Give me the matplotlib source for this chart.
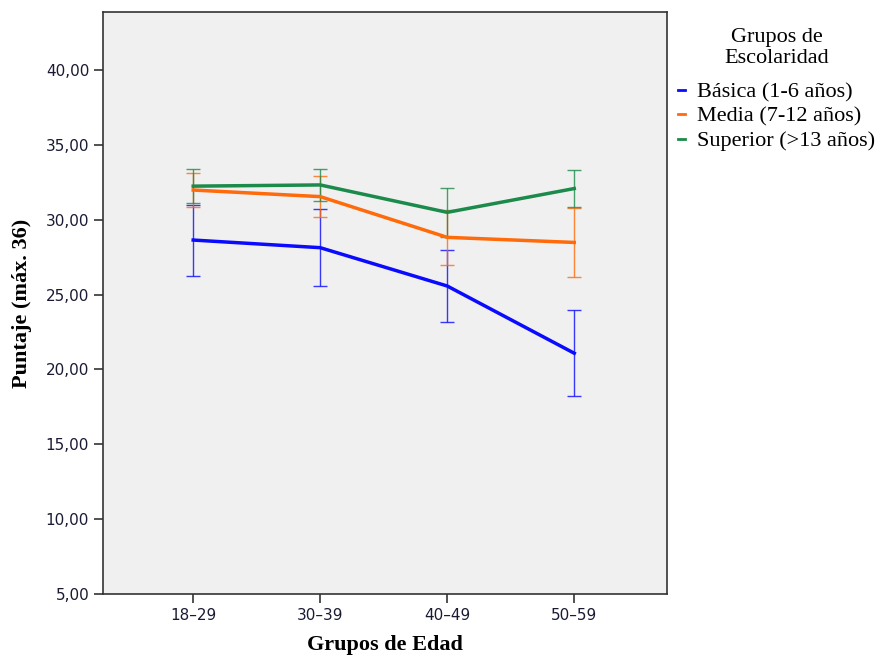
import matplotlib
matplotlib.use("Agg")
import matplotlib.pyplot as plt
import numpy as np

age_groups = ["18\u201329", "30\u201339", "40\u201349", "50\u201359"]
series_names = ["Básica (1-6 años)", "Media (7-12 años)", "Superior (>13 años)"]
basica_mean = [28.64, 28.13, 25.57, 21.08]
basica_err = [2.37, 2.56, 2.43, 2.87]
media_mean = [31.98, 31.54, 28.82, 28.48]
media_err = [1.16, 1.35, 1.84, 2.30]
superior_mean = [32.24, 32.32, 30.49, 32.08]
superior_err = [1.13, 1.08, 1.63, 1.25]
colors = ["#0a0aff", "#ff6a0a", "#1b8a4a"]

fig = plt.figure(figsize=(8.79, 6.56), dpi=100)
ax = fig.add_axes([0.1172, 0.0945, 0.6416, 0.8872])
ax.set_facecolor("#f0f0f0")

x = np.arange(len(age_groups))
for name, m, e, c in zip(series_names,
                         [basica_mean, media_mean, superior_mean],
                         [basica_err, media_err, superior_err],
                         colors):
    ax.errorbar(x, m, yerr=e, fmt="none", ecolor=c, elinewidth=1.0,
                capsize=5, capthick=1.0, alpha=0.8, zorder=2)
    ax.plot(x, m, color=c, lw=2.5, label=name, zorder=3,
            solid_joinstyle="miter")

ax.set_xlim(-0.71, 3.73)
ax.set_ylim(5, 43.87)
yt = [5, 10, 15, 20, 25, 30, 35, 40]
ax.set_yticks(yt)
ax.set_yticklabels([f"{v:.2f}".replace(".", ",") for v in yt])
ax.set_xticks(x)
ax.set_xticklabels(age_groups)
ax.tick_params(axis="both", direction="out", length=6.5, width=1.2,
               color="#333333", labelsize=11, labelcolor="#1a1a33")
for s in ax.spines.values():
    s.set_color("#333333")
    s.set_linewidth(1.2)

serif = ["Liberation Serif", "DejaVu Serif"]
ax.set_xlabel("Grupos de Edad", family=serif, fontsize=16, fontweight="bold",
              labelpad=9)
ax.set_ylabel("Puntaje (máx. 36)", family=serif, fontsize=16, fontweight="bold",
              labelpad=10)

leg = ax.legend(loc="upper left", bbox_to_anchor=(1.0, 0.992), frameon=False,
                borderaxespad=0.2, borderpad=0.3,
                title="Grupos de\nEscolaridad", handlelength=0.32,
                handletextpad=0.55, labelspacing=0.18,
                prop={"family": serif, "size": 16},
                title_fontproperties={"family": serif, "size": 16})
leg.get_title().set_multialignment("center")
leg.get_title().set_linespacing(1.15)
leg._legend_box.align = "center"
leg._legend_box.sep = 10
for h in leg.legend_handles:
    h.set_linewidth(2)

fig.savefig("out.png", dpi=100)
